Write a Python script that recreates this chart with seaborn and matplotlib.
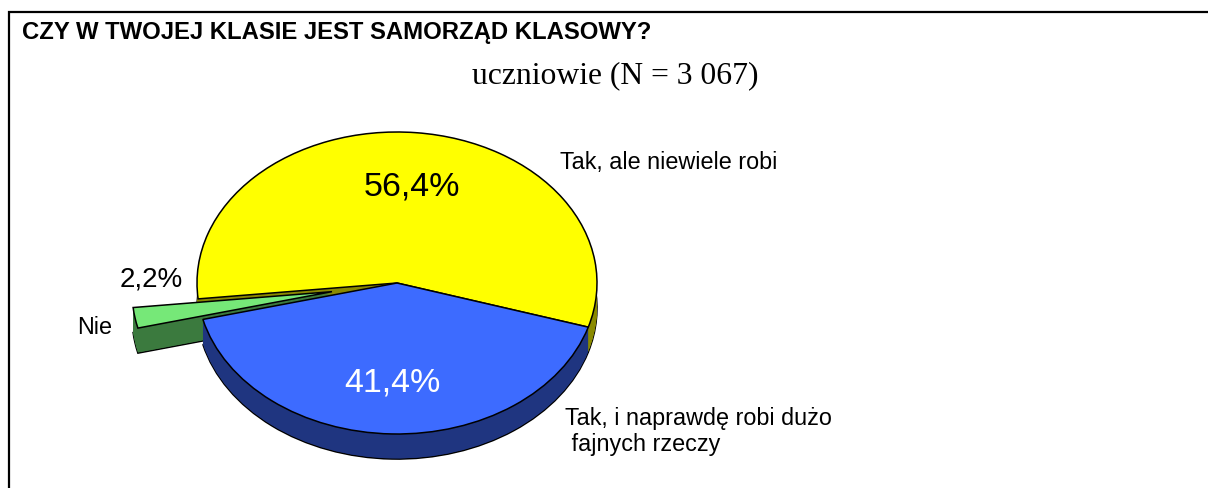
import numpy as np
import matplotlib
matplotlib.use('Agg')
import matplotlib.pyplot as plt
from matplotlib.patches import Rectangle
import seaborn as sns

# survey answers (share of pupils, %)
categories = ['Tak, ale niewiele robi', 'Nie', 'Tak, i naprawdę robi dużo\n fajnych rzeczy']
shares = [56.4, 2.2, 41.4]
explode = [0, 0.33, 0]
top_colors = ['#FFFF00', '#76E878', '#3D6BFF']
side_colors = ['#8A8A00', '#3B7A3E', '#1F3580']

TITLE = 'CZY W TWOJEJ KLASIE JEST SAMORZĄD KLASOWY?'
SUBTITLE = 'uczniowie (N = 3 067)'

sns.set_theme(style='white')
plt.rcParams['font.family'] = ['Liberation Sans', 'DejaVu Sans']
plt.rcParams['text.color'] = 'black'

W, H = 1208, 488
fig = plt.figure(figsize=(W / 100, H / 100), dpi=100)
ax = fig.add_axes([0, 0, 1, 1])

START = -17
DEPTH = 0.166   # thickness of the "3D" rim, in y data units
pie_kw = dict(startangle=START, counterclock=True, explode=explode, radius=1)

# rim: stack of darker pies shifted downwards
ax.pie(shares, colors=side_colors, center=(0, -DEPTH),
       wedgeprops=dict(edgecolor='black', linewidth=1.1), **pie_kw)
for off in np.linspace(DEPTH, 0, 40)[1:]:
    ax.pie(shares, colors=side_colors, center=(0, -off),
           wedgeprops=dict(edgecolor='none', linewidth=0), **pie_kw)

# top face
ax.pie(shares, colors=top_colors,
       wedgeprops=dict(edgecolor='black', linewidth=1.1), **pie_kw)

# stretch the circle into an ellipse (pixels: rx=200, ry=151, centre at 397,283)
cx, cy, rx, ry = 397, 283, 200, 151
ax.set_aspect('auto')
ax.set_xlim(-cx / rx, (W - cx) / rx)
ax.set_ylim(-(H - cy) / ry, cy / ry)
ax.axis('off')

def px(x, y):
    return (x - cx) / rx, (cy - y) / ry

# percentage labels
pct_pos = [px(412, 187), px(151, 280), px(392, 383)]
pct_size = [24.5, 20, 24.5]
pct_color = ['black', 'black', 'white']
for v, (x, y), s, c in zip(shares, pct_pos, pct_size, pct_color):
    ax.text(x, y, f'{v:.1f}%'.replace('.', ','), ha='center', va='center',
            fontsize=s, color=c)

# category labels
ax.text(*px(560, 162), categories[0], ha='left', va='center', fontsize=16.8)
ax.text(*px(112, 327), categories[1], ha='right', va='center', fontsize=16.8)
ax.text(*px(565, 407), categories[2], ha='left', va='top', fontsize=16.8,
        linespacing=1.15)

# titles
fig.text(22 / W, 1 - 33 / H, TITLE, ha='left', va='center',
         fontsize=17.2, fontweight='bold')
fig.text(615 / W, 1 - 76 / H, SUBTITLE, ha='center', va='center',
         fontsize=22.8, family=['Liberation Serif', 'DejaVu Serif'])

# outer frame (only top and left edges fall inside the picture)
fig.add_artist(Rectangle((9 / W, -0.1), 1.2, 1.1 - 12 / H, transform=fig.transFigure,
                         fill=False, edgecolor='black', linewidth=1.6, clip_on=False))

fig.savefig('out.png', dpi=100)
